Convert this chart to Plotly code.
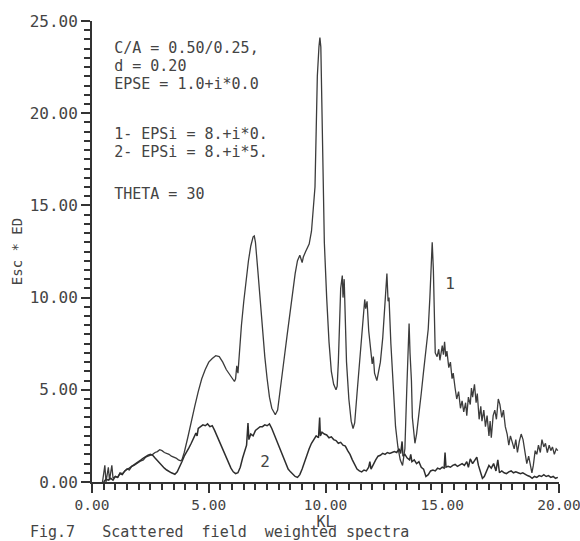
import plotly.graph_objects as go

# Curve 1: EPSi = 8.+i*0.
kl_1 = [0.45, 0.55, 0.6, 0.7, 0.75, 0.85, 0.9, 1.0, 1.1, 1.2, 1.3, 1.4, 1.5, 1.6, 1.7, 1.8, 1.9, 2.0,
        2.1, 2.2, 2.3, 2.4, 2.5, 2.6, 2.7, 2.8, 2.9, 3.0, 3.1, 3.2, 3.3, 3.4, 3.5, 3.6, 3.7, 3.8, 3.85,
        3.95, 4.1, 4.25, 4.4, 4.55, 4.7, 4.85, 5.0, 5.15, 5.3, 5.45, 5.6, 5.75, 5.9, 6.0, 6.1, 6.15,
        6.2, 6.25, 6.3, 6.4, 6.5, 6.6, 6.7, 6.8, 6.9, 6.95, 7.0, 7.1, 7.2, 7.3, 7.4, 7.5, 7.6, 7.7,
        7.8, 7.85, 7.95, 8.05, 8.2, 8.35, 8.5, 8.6, 8.7, 8.8, 8.9, 9.0, 9.05, 9.15, 9.3, 9.4, 9.5,
        9.55, 9.6, 9.65, 9.72, 9.76, 9.8, 9.85, 9.9, 9.95, 10.05, 10.15, 10.25, 10.35, 10.45, 10.5,
        10.55, 10.6, 10.65, 10.72, 10.75, 10.8, 10.85, 10.9, 11.0, 11.1, 11.18, 11.25, 11.35, 11.45,
        11.55, 11.62, 11.68, 11.72, 11.78, 11.85, 11.95, 12.0, 12.05, 12.1, 12.2, 12.25, 12.35,
        12.45, 12.55, 12.6, 12.63, 12.68, 12.72, 12.8, 12.9, 13.0, 13.1, 13.2, 13.3, 13.4, 13.48,
        13.55, 13.58, 13.62, 13.68, 13.72, 13.78, 13.83, 13.9, 14.0, 14.1, 14.2, 14.3, 14.4, 14.47,
        14.52, 14.57, 14.62, 14.66, 14.7, 14.78, 14.85, 14.9, 15.0, 15.05, 15.1, 15.15, 15.2, 15.28,
        15.35, 15.42, 15.47, 15.55, 15.62, 15.7, 15.78, 15.85, 15.92, 16.0, 16.05, 16.12, 16.2,
        16.25, 16.3, 16.38, 16.45, 16.5, 16.58, 16.65, 16.7, 16.78, 16.85, 16.92, 17.0, 17.05, 17.1,
        17.18, 17.25, 17.32, 17.4, 17.47, 17.55, 17.62, 17.7, 17.78, 17.85, 17.92, 18.0, 18.08,
        18.15, 18.22, 18.3, 18.38, 18.46, 18.55, 18.62, 18.7, 18.78, 18.84, 18.9, 18.98, 19.05,
        19.12, 19.2, 19.27, 19.35, 19.42, 19.5, 19.58, 19.65, 19.72, 19.8, 19.88, 19.95]
val_1 = [0.0, 0.9, 0.0, 0.8, 0.1, 0.9, 0.2, 0.3, 0.25, 0.5, 0.45, 0.6, 0.7, 0.65, 0.85, 0.9, 1.0, 1.05,
         1.15, 1.2, 1.35, 1.4, 1.45, 1.5, 1.6, 1.65, 1.75, 1.7, 1.6, 1.55, 1.5, 1.4, 1.35, 1.3, 1.2, 1.15, 1.2,
         1.6, 2.4, 3.3, 4.1, 4.9, 5.6, 6.1, 6.5, 6.7, 6.85, 6.8, 6.5, 6.1, 5.8, 5.6, 5.45, 5.6,
         6.3, 5.9, 7.0, 8.5, 9.8, 11.0, 12.0, 12.8, 13.3, 13.35, 13.0, 11.5, 9.8, 8.2, 6.8, 5.6, 4.6, 4.0,
         3.7, 3.65, 3.9, 4.8, 6.4, 7.9, 9.5, 10.5, 11.3, 12.0, 12.3, 11.9, 12.2, 12.5, 12.9, 13.6, 15.2,
         16.0, 19.0, 22.0, 23.6, 24.1, 23.6, 20.0, 16.0, 13.0, 10.0, 7.6, 6.0, 5.3, 5.0, 5.2,
         6.5, 8.5, 10.5, 11.2, 10.0, 11.0, 9.0, 6.5, 4.5, 3.3, 2.9, 3.2, 4.8, 6.5,
         8.2, 9.3, 9.9, 9.4, 9.8, 8.2, 6.8, 6.4, 6.8, 5.9, 5.5, 5.8, 6.5,
         7.8, 9.5, 10.6, 11.3, 9.8, 10.0, 7.5, 5.0, 3.0, 1.9, 1.2, 0.9, 1.8, 5.0,
         8.0, 8.6, 7.0, 5.5, 3.5, 2.6, 2.1, 2.6, 3.6, 4.8, 6.0, 7.2, 8.3, 10.0,
         12.0, 13.0, 11.5, 8.5, 7.0, 6.8, 7.2, 6.6, 7.4, 6.9, 7.6, 6.8, 7.1, 6.2,
         6.5, 5.6, 5.9, 5.1, 4.5, 4.9, 4.0, 4.4, 3.8, 4.3, 3.6, 4.6, 4.2,
         5.1, 4.6, 5.3, 4.3, 4.8, 3.4, 4.1, 3.3, 3.9, 3.0, 3.6, 2.5, 3.3, 2.4,
         3.6, 3.9, 3.4, 4.5, 4.2, 3.5, 3.9, 3.0, 2.6, 2.0, 2.5, 2.1, 1.8,
         2.3, 1.6, 2.2, 2.6, 2.3, 1.5, 1.0, 1.4, 0.8, 0.5, 0.9, 1.7, 1.5,
         2.0, 1.6, 2.3, 1.9, 2.1, 1.6, 2.0, 1.7, 1.9, 1.5, 1.8, 1.7]

# Curve 2: EPSi = 8.+i*5.
kl_2 = [0.5, 0.6, 0.7, 0.8, 0.9, 1.0, 1.1, 1.2, 1.3, 1.4, 1.5, 1.6, 1.7, 1.8, 1.9, 2.0, 2.1, 2.2, 2.3,
        2.4, 2.5, 2.6, 2.7, 2.8, 2.9, 3.0, 3.1, 3.2, 3.3, 3.4, 3.5, 3.55, 3.65, 3.75, 3.85, 3.95, 4.05,
        4.15, 4.25, 4.35, 4.45, 4.5, 4.55, 4.65, 4.75, 4.85, 4.95, 5.05, 5.15, 5.25, 5.35, 5.45, 5.55,
        5.65, 5.75, 5.85, 5.95, 6.05, 6.15, 6.25, 6.35, 6.45, 6.55, 6.62, 6.68, 6.72, 6.8, 6.9, 7.0,
        7.1, 7.2, 7.3, 7.4, 7.5, 7.6, 7.7, 7.8, 7.9, 8.0, 8.1, 8.2, 8.3, 8.4, 8.5, 8.6, 8.7, 8.8, 8.9,
        9.0, 9.1, 9.2, 9.3, 9.4, 9.5, 9.6, 9.7, 9.75, 9.78, 9.85, 9.95, 10.05, 10.15, 10.25, 10.35,
        10.45, 10.55, 10.65, 10.75, 10.85, 10.95, 11.05, 11.15, 11.25, 11.35, 11.45, 11.55, 11.65,
        11.75, 11.85, 11.9, 11.95, 12.05, 12.15, 12.25, 12.35, 12.45, 12.55, 12.65, 12.75, 12.85,
        12.95, 13.05, 13.15, 13.22, 13.28, 13.32, 13.4, 13.5, 13.6, 13.65, 13.7, 13.8, 13.9, 14.0,
        14.1, 14.2, 14.3, 14.4, 14.5, 14.6, 14.7, 14.8, 14.9, 15.0, 15.08, 15.12, 15.16, 15.25,
        15.35, 15.45, 15.55, 15.65, 15.75, 15.85, 15.95, 16.05, 16.12, 16.2, 16.3, 16.4, 16.48,
        16.55, 16.65, 16.72, 16.8, 16.9, 17.0, 17.1, 17.2, 17.3, 17.38, 17.45, 17.55, 17.65, 17.75,
        17.85, 17.95, 18.05, 18.15, 18.25, 18.35, 18.45, 18.55, 18.65, 18.75, 18.85, 18.95, 19.05,
        19.15, 19.25, 19.35, 19.45, 19.55, 19.65, 19.75, 19.85, 19.95]
val_2 = [0.0, 0.15, 0.1, 0.2, 0.1, 0.3, 0.25, 0.45, 0.4, 0.6, 0.7, 0.75, 0.85, 0.95, 1.0, 1.15, 1.2, 1.3, 1.4,
         1.45, 1.5, 1.45, 1.3, 1.15, 1.0, 0.85, 0.75, 0.65, 0.55, 0.5, 0.45, 0.42, 0.55, 0.8, 1.1, 1.4, 1.6,
         1.85, 2.1, 2.4, 2.65, 2.5, 2.9, 3.0, 3.1, 3.05, 3.15, 3.0, 3.05, 2.8, 2.5, 2.2, 1.9,
         1.6, 1.3, 1.0, 0.75, 0.55, 0.45, 0.5, 0.8, 1.3, 1.7, 2.0, 3.2, 2.3, 2.6, 2.5, 2.8,
         2.9, 3.0, 3.0, 3.1, 3.05, 3.15, 2.9, 2.6, 2.2, 1.9, 1.6, 1.3, 1.0, 0.7, 0.55, 0.4, 0.3, 0.25, 0.4,
         0.7, 1.1, 1.4, 1.8, 2.1, 2.3, 2.5, 2.4, 3.5, 2.5, 2.7, 2.6, 2.55, 2.4, 2.45, 2.3,
         2.25, 2.1, 2.15, 2.0, 1.95, 1.7, 1.5, 1.2, 0.9, 0.7, 0.6, 0.55, 0.65,
         0.6, 0.8, 1.1, 0.7, 1.0, 1.2, 1.4, 1.45, 1.55, 1.5, 1.6, 1.55, 1.6,
         1.65, 1.6, 1.8, 1.55, 2.2, 1.4, 1.5, 1.3, 1.2, 1.5, 1.1, 1.2, 1.0, 1.1,
         0.8, 0.7, 0.3, 0.4, 0.6, 0.65, 0.6, 0.75, 0.7, 0.8, 0.75, 1.6, 0.8, 0.85,
         0.8, 0.9, 0.95, 0.85, 0.95, 1.0, 0.9, 1.1, 0.8, 1.25, 1.0, 1.2, 1.35,
         0.9, 0.5, 0.2, 0.3, 0.6, 0.9, 0.75, 1.0, 0.6, 1.2, 0.5, 0.6, 0.5, 0.45,
         0.55, 0.6, 0.5, 0.55, 0.5, 0.45, 0.5, 0.4, 0.35, 0.3, 0.2, 0.3, 0.25,
         0.35, 0.3, 0.4, 0.3, 0.35, 0.25, 0.3, 0.2, 0.25]

info_lines = ["C/A = 0.50/0.25,", "d = 0.20", "EPSE = 1.0+i*0.0",
              "1- EPSi = 8.+i*0.", "2- EPSi = 8.+i*5.", "THETA = 30"]
curve_labels = ["1", "2"]

# text anchor positions (data units)
info_x = [0.95] * 6
info_y = [23.48, 22.48, 21.53, 18.82, 17.84, 15.56]
label_x = [15.33, 7.41]
label_y = [10.68, 1.03]

FONT = "DejaVu Sans Mono"
TXT = "#444444"
INK = "#333333"

fig = go.Figure()
fig.add_trace(go.Scatter(x=kl_1, y=val_1, mode="lines",
                         line=dict(color="#3c3c3c", width=1.3), hoverinfo="skip"))
fig.add_trace(go.Scatter(x=kl_2, y=val_2, mode="lines",
                         line=dict(color="#2e2e2e", width=1.5), hoverinfo="skip"))
fig.add_trace(go.Scatter(x=info_x, y=info_y, mode="text", text=info_lines,
                         textposition="middle right", hoverinfo="skip",
                         textfont=dict(family=FONT, size=15, color=TXT)))
fig.add_trace(go.Scatter(x=label_x, y=label_y, mode="text", text=curve_labels,
                         textposition="middle center", hoverinfo="skip",
                         textfont=dict(family=FONT, size=16, color=TXT)))

fig.update_xaxes(range=[0, 20], tick0=0, dtick=5, showgrid=False, zeroline=False, automargin=False,
                 showline=True, linecolor=INK, linewidth=2,
                 ticks="outside", ticklen=9, tickwidth=2, tickcolor=INK,
                 tickformat=".2f", ticklabeloverflow="allow",
                 tickfont=dict(family=FONT, size=14.5, color=TXT),
                 minor=dict(dtick=0.5, ticks="outside", ticklen=6, tickwidth=1.5, tickcolor=INK),
                 title=dict(text="\u00a0" * 13 + "KL", standoff=2,
                            font=dict(family=FONT, size=15, color=TXT)))
fig.update_yaxes(range=[0, 25], tick0=0, dtick=5, showgrid=False, zeroline=False, automargin=False,
                 showline=True, linecolor=INK, linewidth=2,
                 ticks="outside", ticklen=9, tickwidth=2, tickcolor=INK,
                 tickformat=".2f", ticklabeloverflow="allow",
                 tickfont=dict(family=FONT, size=16, color=TXT),
                 minor=dict(dtick=0.5, ticks="outside", ticklen=6, tickwidth=1.5, tickcolor=INK),
                 title=dict(text="Esc * ED", standoff=4,
                            font=dict(family=FONT, size=14, color=TXT)))

fig.update_layout(width=580, height=541, margin=dict(l=92, r=21, t=21, b=59),
                  showlegend=False, hovermode=False,
                  title=dict(text="Fig.7   Scattered  field  weighted spectra",
                             xref="container", yref="container", x=0.0517, y=0.0166,
                             xanchor="left", yanchor="middle",
                             font=dict(family=FONT, size=15, color=TXT)),
                  plot_bgcolor="white", paper_bgcolor="white")

fig.write_html("out.html", config={"displayModeBar": False},
               post_script="document.body.style.margin='0';document.body.style.overflow='hidden';")
